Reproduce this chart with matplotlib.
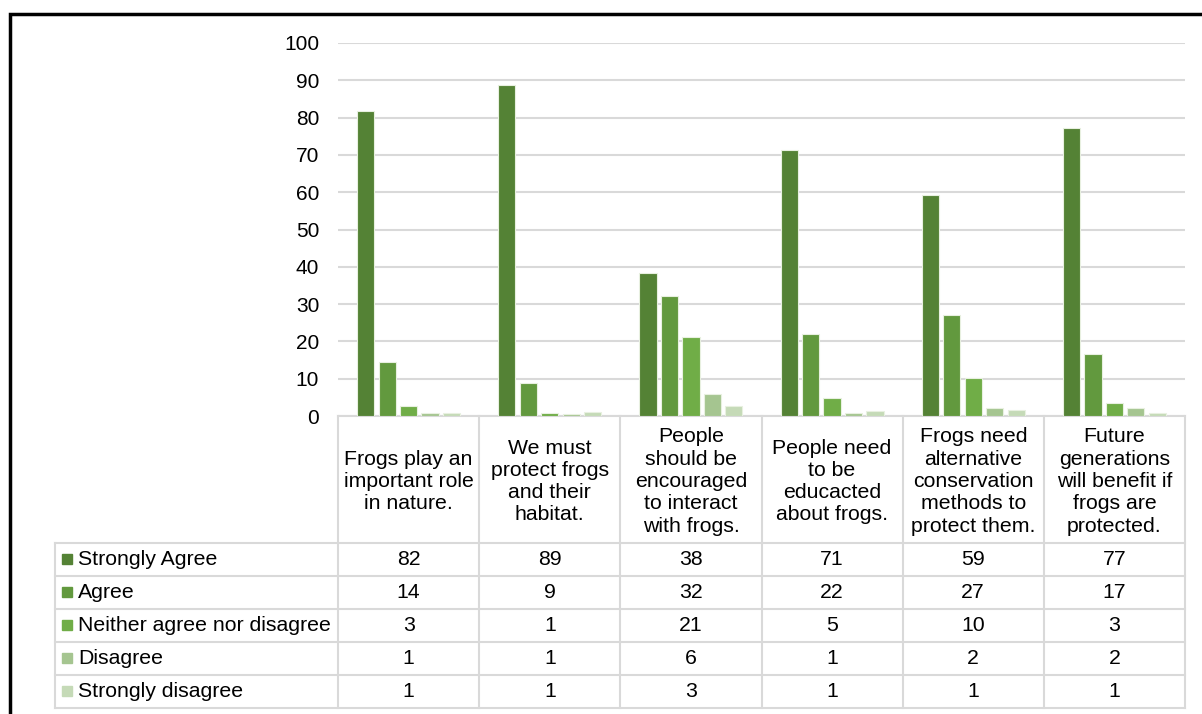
import numpy as np
import matplotlib
matplotlib.use("Agg")
import matplotlib.pyplot as plt

plt.rcParams['font.family'] = ['Liberation Sans', 'DejaVu Sans']

# ---------------------------------------------------------------------------
# Data
# ---------------------------------------------------------------------------
statements = [
    "Frogs play an\nimportant role\nin nature.",
    "We must\nprotect frogs\nand their\nhabitat.",
    "People\nshould be\nencouraged\nto interact\nwith frogs.",
    "People need\nto be\neducacted\nabout frogs.",
    "Frogs need\nalternative\nconservation\nmethods to\nprotect them.",
    "Future\ngenerations\nwill benefit if\nfrogs are\nprotected.",
]
responses = ["Strongly Agree", "Agree", "Neither agree nor disagree",
             "Disagree", "Strongly disagree"]

# bar heights (percent), one list per response
strongly_agree = [81.8, 88.7, 38.3, 71.2, 59.2, 77.2]
agree = [14.4, 8.8, 32.3, 21.9, 27.2, 16.6]
neither = [2.6, 0.9, 21.1, 4.8, 10.2, 3.4]
disagree = [0.7, 0.6, 5.9, 0.8, 2.1, 2.1]
strongly_disagree = [0.9, 1.2, 2.7, 1.3, 1.5, 0.9]

# values printed in the data table
table_sa = [82, 89, 38, 71, 59, 77]
table_a = [14, 9, 32, 22, 27, 17]
table_n = [3, 1, 21, 5, 10, 3]
table_d = [1, 1, 6, 1, 2, 2]
table_sd = [1, 1, 3, 1, 1, 1]

series = [strongly_agree, agree, neither, disagree, strongly_disagree]
table_rows = [table_sa, table_a, table_n, table_d, table_sd]
colors = ['#548235', '#62993e', '#70ad47', '#a5c590', '#c5dab7']

# ---------------------------------------------------------------------------
# Figure (pixel layout helpers)
# ---------------------------------------------------------------------------
W, H = 1202, 714
fig = plt.figure(figsize=(W / 100, H / 100), dpi=100)
fs = 15.3

x_left, x_right = 338, 1185
y_top, y_zero = 43, 416
col_edges = np.linspace(x_left, x_right, len(statements) + 1)
header_bottom = 543
row_h = 33
label_left = 55

# background axes in pixel coordinates for table and frame
bg = fig.add_axes([0, 0, 1, 1])
bg.set_xlim(0, W)
bg.set_ylim(H, 0)
bg.axis('off')

grid_c = '#d9d9d9'
# vertical lines
for xe in col_edges:
    bg.plot([xe, xe], [y_zero, header_bottom + row_h * 5], color=grid_c, lw=1.5)
bg.plot([label_left, label_left], [header_bottom, header_bottom + row_h * 5],
        color=grid_c, lw=1.5)
# horizontal lines
bg.plot([x_left, x_right], [y_zero, y_zero], color=grid_c, lw=1.5)
for r in range(6):
    yy = header_bottom + r * row_h
    bg.plot([label_left, x_right], [yy, yy], color=grid_c, lw=1.5)

# header texts
for i, s in enumerate(statements):
    cx = (col_edges[i] + col_edges[i + 1]) / 2
    bg.text(cx, (y_zero + header_bottom) / 2 + 2, s, ha='center', va='center',
            fontsize=fs, linespacing=1.22, color='black')

# rows
for r, (name, vals) in enumerate(zip(responses, table_rows)):
    cy = header_bottom + r * row_h + row_h / 2
    bg.add_patch(plt.Rectangle((62, cy - 6), 10, 10, color=colors[r]))
    bg.text(78, cy, name, ha='left', va='center', fontsize=fs)
    for i, v in enumerate(vals):
        cx = (col_edges[i] + col_edges[i + 1]) / 2
        bg.text(cx, cy, str(v), ha='center', va='center', fontsize=fs)

# outer frame
bg.plot([9.5, 9.5, W], [H, 13.5, 13.5], color='black', lw=2.5,
        solid_joinstyle='miter')

# ---------------------------------------------------------------------------
# Bar chart
# ---------------------------------------------------------------------------
ax = fig.add_axes([x_left / W, 1 - y_zero / H,
                   (x_right - x_left) / W, (y_zero - y_top) / H])
ax.patch.set_alpha(0)
x = np.arange(len(statements))
step = 0.152
width = 0.122
for k, (vals, c) in enumerate(zip(series, colors)):
    ax.bar(x + (k - 2) * step, vals, width, color=c, edgecolor='#e8f0e0',
           linewidth=0.8, zorder=3)

ax.set_xlim(-0.5, len(statements) - 0.5)
ax.set_ylim(0, 100)
ax.set_yticks(np.arange(0, 101, 10))
ax.set_xticks([])
ax.yaxis.grid(True, color=grid_c, lw=1.5, zorder=0)
ax.set_axisbelow(True)
for sp in ax.spines.values():
    sp.set_visible(False)
ax.tick_params(axis='y', length=0, pad=13.5, labelsize=15, labelcolor='black')

fig.savefig("out.png", dpi=100)
